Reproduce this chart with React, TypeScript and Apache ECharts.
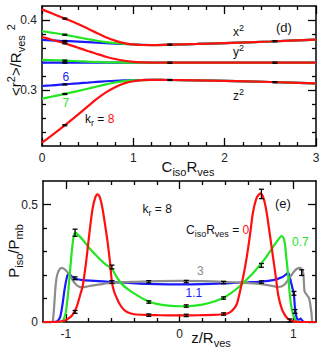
import React, { useEffect, useRef } from 'react';
import * as echarts from 'echarts';

const FONT = '"Liberation Sans", Arial, Helvetica, sans-serif';
const RED = '#ff1010';
const GREEN = '#22e622';
const BLUE = '#1a1aff';
const GREY = '#8c8c8c';

// ---------- panel (d) ----------
const TOP_X = [0, 0.1, 0.2, 0.3, 0.4, 0.5, 0.6, 0.7, 0.8, 0.9, 1.0, 1.1, 1.2, 1.4, 1.7, 2.0, 2.5, 3.0];
const RED_X2 = [0.4152, 0.4100, 0.4045, 0.3995, 0.3940, 0.3880, 0.3815, 0.3755, 0.3705, 0.3670, 0.3652, 0.3643, 0.3642, 0.3648, 0.3658, 0.3670, 0.3693, 0.3720];
const RED_Y2 = [0.3757, 0.3722, 0.3685, 0.3645, 0.3602, 0.3558, 0.3515, 0.3475, 0.3443, 0.3418, 0.3403, 0.3395, 0.3392, 0.3390, 0.3390, 0.3390, 0.3390, 0.3390];
const RED_Z2 = [0.2248, 0.2345, 0.2445, 0.2548, 0.2655, 0.2765, 0.2872, 0.2965, 0.3040, 0.3095, 0.3125, 0.3140, 0.3145, 0.3143, 0.3137, 0.3130, 0.3114, 0.3095];
const GREEN_X2 = [0.3840, 0.3820, 0.3800, 0.3777, 0.3752, 0.3727, 0.3703, 0.3683, 0.3668, 0.3658, 0.3652, 0.3643, 0.3642, 0.3648, 0.3658, 0.3670, 0.3693, 0.3720];
const GREEN_Y2 = [0.3429, 0.3427, 0.3423, 0.3417, 0.3411, 0.3405, 0.3400, 0.3396, 0.3394, 0.3392, 0.3392, 0.3391, 0.3391, 0.3390, 0.3390, 0.3390, 0.3390, 0.3390];
const GREEN_Z2 = [0.2876, 0.2903, 0.2930, 0.2958, 0.2988, 0.3018, 0.3050, 0.3080, 0.3107, 0.3127, 0.3137, 0.3142, 0.3145, 0.3143, 0.3137, 0.3130, 0.3114, 0.3095];
const BLUE_X2 = [0.3714, 0.3709, 0.3703, 0.3697, 0.3690, 0.3683, 0.3676, 0.3669, 0.3663, 0.3657, 0.3653, 0.3645, 0.3643, 0.3648, 0.3658, 0.3670, 0.3693, 0.3720];
const BLUE_Y2 = [0.3391, 0.3391, 0.3391, 0.3391, 0.3390, 0.3390, 0.3390, 0.3390, 0.3390, 0.3390, 0.3390, 0.3390, 0.3390, 0.3390, 0.3390, 0.3390, 0.3390, 0.3390];
const BLUE_Z2 = [0.3057, 0.3066, 0.3076, 0.3086, 0.3096, 0.3106, 0.3116, 0.3125, 0.3132, 0.3137, 0.3140, 0.3143, 0.3145, 0.3143, 0.3137, 0.3130, 0.3114, 0.3095];

const TOP_ERR_X = [0.25, 0.25, 0.25, 0.25, 0.25, 0.25, 0.25, 0.25, 0.25, 1.4, 1.4, 1.4, 2.55, 2.55, 2.55];
const TOP_ERR_Y = [0.4020, 0.3790, 0.3700, 0.3667, 0.3420, 0.3390, 0.3080, 0.2943, 0.2497, 0.3648, 0.3390, 0.3143, 0.3697, 0.3390, 0.3112];

const TOP_Y_MAJOR = [0.3, 0.4];
const TOP_Y_MINOR = [0.24, 0.26, 0.28, 0.32, 0.34, 0.36, 0.38];
const TOP_X_MAJOR = [0, 1, 2, 3];
const TOP_X_MINOR = [0.2, 0.4, 0.6, 0.8, 1.2, 1.4, 1.6, 1.8, 2.2, 2.4, 2.6, 2.8];

// ---------- panel (e) ----------
const RED0_X = [-1.2, -1.05, -1.0, -0.95, -0.927, -0.9, -0.87, -0.85, -0.82, -0.794, -0.765, -0.74, -0.721, -0.7, -0.677, -0.65, -0.632, -0.61, -0.594, -0.575, -0.55, -0.53, -0.5, -0.47, -0.44, -0.4, -0.3, -0.2, -0.1, 0, 0.1, 0.2, 0.3, 0.4, 0.44, 0.47, 0.5, 0.52, 0.544, 0.575, 0.603, 0.625, 0.647, 0.68, 0.712, 0.74, 0.765, 0.795, 0.824, 0.85, 0.868, 0.9, 0.927, 0.95, 0.986, 1.05, 1.2];
const RED0_Y = [0, 0.002, 0.008, 0.025, 0.04, 0.07, 0.12, 0.156, 0.26, 0.37, 0.48, 0.53, 0.543, 0.53, 0.483, 0.40, 0.34, 0.25, 0.17, 0.13, 0.10, 0.08, 0.058, 0.045, 0.038, 0.033, 0.030, 0.029, 0.028, 0.028, 0.028, 0.029, 0.030, 0.034, 0.040, 0.052, 0.072, 0.105, 0.156, 0.23, 0.313, 0.39, 0.469, 0.53, 0.547, 0.525, 0.469, 0.37, 0.27, 0.18, 0.114, 0.055, 0.029, 0.015, 0.005, 0, 0];
const GREEN07_X = [-1.2, -1.04, -1.02, -1.0, -0.98, -0.96, -0.94, -0.92, -0.9, -0.85, -0.794, -0.75, -0.7, -0.65, -0.594, -0.55, -0.5, -0.44, -0.4, -0.353, -0.3, -0.265, -0.2, -0.1, 0, 0.06, 0.1, 0.2, 0.3, 0.382, 0.45, 0.53, 0.6, 0.65, 0.706, 0.76, 0.82, 0.86, 0.897, 0.92, 0.94, 0.955, 0.97, 0.985, 1.0, 1.02, 1.04, 1.2];
const GREEN07_Y = [0, 0, 0.01, 0.04, 0.12, 0.23, 0.33, 0.38, 0.375, 0.35, 0.315, 0.292, 0.267, 0.245, 0.225, 0.19, 0.158, 0.135, 0.122, 0.108, 0.094, 0.086, 0.077, 0.07, 0.067, 0.067, 0.068, 0.074, 0.086, 0.102, 0.122, 0.152, 0.185, 0.21, 0.242, 0.275, 0.318, 0.345, 0.366, 0.35, 0.27, 0.2, 0.114, 0.06, 0.03, 0.008, 0, 0];
const BLUE11_X = [-1.2, -1.1, -1.075, -1.05, -1.03, -1.01, -0.99, -0.977, -0.96, -0.94, -0.918, -0.85, -0.75, -0.594, -0.45, -0.353, -0.2, 0, 0.2, 0.382, 0.5, 0.6, 0.72, 0.824, 0.9, 0.94, 0.956, 0.975, 0.99, 1.005, 1.015, 1.025, 1.035, 1.05, 1.065, 1.08, 1.1, 1.2];
const BLUE11_Y = [0, 0, 0.003, 0.02, 0.07, 0.14, 0.19, 0.206, 0.2, 0.19, 0.184, 0.178, 0.175, 0.17, 0.166, 0.163, 0.161, 0.16, 0.161, 0.164, 0.167, 0.169, 0.172, 0.178, 0.19, 0.204, 0.209, 0.18, 0.15, 0.12, 0.06, 0.03, 0.012, 0.01, 0.015, 0.005, 0, 0];
const GREY3_X = [-1.2, -1.12, -1.11, -1.1, -1.09, -1.08, -1.06, -1.035, -1.0, -0.96, -0.92, -0.882, -0.85, -0.8, -0.7, -0.594, -0.45, -0.27, 0, 0.2, 0.388, 0.55, 0.7, 0.8, 0.868, 0.92, 0.97, 1.02, 1.059, 1.08, 1.09, 1.1, 1.12, 1.14, 1.16, 1.17, 1.2];
const GREY3_Y = [0, 0, 0.02, 0.08, 0.15, 0.19, 0.22, 0.23, 0.22, 0.195, 0.165, 0.15, 0.148, 0.152, 0.16, 0.167, 0.17, 0.173, 0.175, 0.174, 0.171, 0.167, 0.162, 0.155, 0.149, 0.158, 0.19, 0.222, 0.23, 0.22, 0.2, 0.13, 0.115, 0.1, 0.04, 0, 0];

const BOT_ERR_X = [-0.918, -0.918, -0.918, -0.594, -0.594, -0.27, -0.27, -0.27, 0.059, 0.059, 0.059, 0.388, 0.388, 0.388, 0.72, 0.72, 0.72, 0.97, 1.006, 1.015, 1.074];
const BOT_ERR_Y = [0.38, 0.043, 0.186, 0.234, 0.17, 0.171, 0.085, 0.029, 0.172, 0.068, 0.028, 0.168, 0.102, 0.034, 0.545, 0.241, 0.17, 0.007, 0.122, 0.045, 0.21];
const BOT_ERR_H = [0.015, 0.006, 0.006, 0.008, 0.006, 0.005, 0.005, 0.005, 0.005, 0.005, 0.005, 0.005, 0.005, 0.005, 0.02, 0.008, 0.005, 0.006, 0.008, 0.008, 0.012];

const BOT_Y_MAJOR = [0, 0.5];
const BOT_Y_MINOR = [0.1, 0.2, 0.3, 0.4];
const BOT_X_MAJOR = [-1, 0, 1];
const BOT_X_MINOR = [-0.8, -0.6, -0.4, -0.2, 0.2, 0.4, 0.6, 0.8];

type Seg = { t?: string; fs?: number; dy?: number; fill?: string; gap?: number };

function makeLabel(segs: Seg[], x: number, y: number, rot = 0, align = 'left') {
  const ctx = document.createElement('canvas').getContext('2d') as CanvasRenderingContext2D;
  const widths = segs.map((s) => {
    if (s.gap) return s.gap;
    ctx.font = `${s.fs}px ${FONT}`;
    return ctx.measureText(s.t as string).width;
  });
  const W = widths.reduce((a, b) => a + b, 0);
  let cx = align === 'center' ? -W / 2 : align === 'right' ? -W : 0;
  const children: any[] = [];
  segs.forEach((s, i) => {
    if (!s.gap) {
      children.push({
        type: 'text',
        x: cx,
        y: (s.dy || 0) - 0.35 * (s.fs as number),
        style: {
          text: s.t,
          fontSize: s.fs,
          fontFamily: FONT,
          fill: s.fill || '#111',
          align: 'left',
          verticalAlign: 'middle',
        },
      });
    }
    cx += widths[i];
  });
  return { type: 'group', x, y, rotation: rot, silent: true, children };
}

function axisSet(kind: 'x' | 'y', gridIndex: number, min: number, max: number, majors: number[], minors: number[], fmt: (v: number) => string) {
  const pos = kind === 'x' ? ['bottom', 'top'] : ['left', 'right'];
  const base = (p: string, line: boolean, len: number, vals: number[], label: boolean) => ({
    type: 'value',
    gridIndex,
    min,
    max,
    position: p,
    splitLine: { show: false },
    axisLine: { show: line, onZero: false, lineStyle: { color: '#000', width: 1.5 } },
    axisTick: { show: true, inside: true, length: len, customValues: vals, lineStyle: { color: '#000', width: 1.3 } },
    axisLabel: label
      ? { show: true, customValues: vals, margin: kind === 'x' ? 6 : 5, fontSize: 12, color: '#222', fontFamily: FONT, formatter: fmt }
      : { show: false },
  });
  return [
    base(pos[0], true, 8, majors, true),
    base(pos[0], false, 4, minors, false),
    base(pos[1], true, 8, majors, false),
    base(pos[1], false, 4, minors, false),
  ];
}

const zip = (xs: number[], ys: number[]) => xs.map((x, i) => [x, ys[i]]);

function lineSeries(xi: number, data: number[][], color: string, z: number) {
  return {
    type: 'line',
    xAxisIndex: xi,
    yAxisIndex: xi,
    data,
    showSymbol: false,
    symbol: 'none',
    smooth: 0.3,
    clip: true,
    z,
    lineStyle: { color, width: 2.2 },
    itemStyle: { color },
  };
}

function errSeries(xi: number, data: number[][], cap: number, lw: number) {
  return {
    type: 'custom',
    xAxisIndex: xi,
    yAxisIndex: xi,
    z: 10,
    data,
    encode: { x: 0, y: 1 },
    renderItem: (params: any, api: any) => {
      const x = api.value(0);
      const y = api.value(1);
      const h = api.value(2);
      const t = api.coord([x, y + h]);
      const b = api.coord([x, y - h]);
      const st = { stroke: '#000', lineWidth: lw };
      return {
        type: 'group',
        children: [
          { type: 'line', shape: { x1: t[0], y1: t[1], x2: b[0], y2: b[1] }, style: st },
          { type: 'line', shape: { x1: t[0] - cap, y1: t[1], x2: t[0] + cap, y2: t[1] }, style: st },
          { type: 'line', shape: { x1: b[0] - cap, y1: b[1], x2: b[0] + cap, y2: b[1] }, style: st },
        ],
      };
    },
  };
}

export default function App() {
  const ref = useRef<HTMLDivElement>(null);
  useEffect(() => {
    if (!ref.current) return;
    const chart = echarts.init(ref.current, undefined, { renderer: 'svg' });
    const fmtTop = (v: number) => v.toFixed(1);
    const fmtInt = (v: number) => (Math.abs(v) < 1e-9 ? '0' : String(Math.round(v * 10) / 10));

    const xAxes = [
      ...axisSet('x', 0, 0, 3, TOP_X_MAJOR, TOP_X_MINOR, fmtInt),
      ...axisSet('x', 1, -1.2, 1.2, BOT_X_MAJOR, BOT_X_MINOR, fmtInt),
    ];
    const yAxes = [
      ...axisSet('y', 0, 0.22, 0.42, TOP_Y_MAJOR, TOP_Y_MINOR, fmtTop),
      ...axisSet('y', 1, 0, 0.6, BOT_Y_MAJOR, BOT_Y_MINOR, fmtInt),
    ];

    const topErr = TOP_ERR_X.map((x, i) => [x, TOP_ERR_Y[i], 0.0008]);
    const botErr = BOT_ERR_X.map((x, i) => [x, BOT_ERR_Y[i], BOT_ERR_H[i]]);

    const series = [
      lineSeries(0, zip(TOP_X, BLUE_X2), BLUE, 2),
      lineSeries(0, zip(TOP_X, BLUE_Y2), BLUE, 2),
      lineSeries(0, zip(TOP_X, BLUE_Z2), BLUE, 2),
      lineSeries(0, zip(TOP_X, GREEN_X2), GREEN, 3),
      lineSeries(0, zip(TOP_X, GREEN_Y2), GREEN, 3),
      lineSeries(0, zip(TOP_X, GREEN_Z2), GREEN, 3),
      lineSeries(0, zip(TOP_X, RED_X2), RED, 4),
      lineSeries(0, zip(TOP_X, RED_Y2), RED, 4),
      lineSeries(0, zip(TOP_X, RED_Z2), RED, 4),
      errSeries(0, topErr, 2.5, 1.2),
      lineSeries(4, zip(BLUE11_X, BLUE11_Y), BLUE, 2),
      lineSeries(4, zip(GREY3_X, GREY3_Y), GREY, 3),
      lineSeries(4, zip(GREEN07_X, GREEN07_Y), GREEN, 4),
      lineSeries(4, zip(RED0_X, RED0_Y), RED, 5),
      errSeries(4, botErr, 2.5, 1.3),
    ];

    const A = 15; // axis title size
    const S = 11; // axis title sub size
    const a = 12; // annotation size
    const s = 9; // annotation sub size
    const graphic = [
      // axis titles
      makeLabel([{ t: 'C', fs: A }, { t: 'iso', fs: S, dy: 4 }, { t: 'R', fs: A }, { t: 'ves', fs: S, dy: 4 }], 188, 171.5, 0, 'center'),
      makeLabel([{ t: 'z/R', fs: A }, { t: 'ves', fs: S, dy: 4 }], 211, 342.5, 0, 'center'),
      makeLabel(
        [{ t: '<r', fs: A }, { t: '2', fs: S, dy: -6 }, { t: '>/R', fs: A }, { t: 'ves', fs: S, dy: 4 }, { gap: 5 }, { t: '2', fs: S, dy: -6 }],
        21, 60, Math.PI / 2, 'center'
      ),
      makeLabel([{ t: 'P', fs: A }, { t: 'iso', fs: S, dy: 4 }, { t: '/P', fs: A }, { t: 'mb', fs: S, dy: 4 }], 19, 251, Math.PI / 2, 'center'),
      // panel (d) annotations
      makeLabel([{ t: 'x', fs: a }, { t: '2', fs: s, dy: -5 }], 233, 36.5),
      makeLabel([{ t: 'y', fs: a }, { t: '2', fs: s, dy: -5 }], 233, 56),
      makeLabel([{ t: 'z', fs: a }, { t: '2', fs: s, dy: -5 }], 233, 100),
      makeLabel([{ t: '(d)', fs: 13 }], 276, 32.5),
      makeLabel([{ t: '6', fs: a, fill: BLUE }], 62.5, 81),
      makeLabel([{ t: '7', fs: a, fill: GREEN }], 62.5, 107),
      makeLabel([{ t: 'k', fs: a }, { t: 'r', fs: s, dy: 3 }, { t: ' = ', fs: a }, { t: '8', fs: a, fill: RED }], 85, 123.5),
      // panel (e) annotations
      makeLabel([{ t: 'k', fs: a }, { t: 'r', fs: s, dy: 3 }, { t: ' = 8', fs: a }], 142.5, 213),
      makeLabel(
        [{ t: 'C', fs: a }, { t: 'iso', fs: s, dy: 3 }, { t: 'R', fs: a }, { t: 'ves', fs: s, dy: 3 }, { t: ' = ', fs: a }, { t: '0', fs: a, fill: RED }],
        186, 234.5
      ),
      makeLabel([{ t: '(e)', fs: 13 }], 275, 208.5),
      makeLabel([{ t: '0.7', fs: a, fill: GREEN }], 292, 246),
      makeLabel([{ t: '3', fs: a, fill: GREY }], 197, 275),
      makeLabel([{ t: '1.1', fs: a, fill: BLUE }], 185.5, 297),
    ];

    chart.setOption({
      animation: false,
      backgroundColor: '#fff',
      textStyle: { fontFamily: FONT },
      grid: [
        { left: 42, top: 6, width: 274, height: 140 },
        { left: 43, top: 181, width: 273, height: 141 },
      ],
      xAxis: xAxes,
      yAxis: yAxes,
      series,
      graphic,
    });
    return () => chart.dispose();
  }, []);
  return <div ref={ref} style={{ position: 'fixed', left: 0, top: 0, width: 325, height: 350 }} />;
}
